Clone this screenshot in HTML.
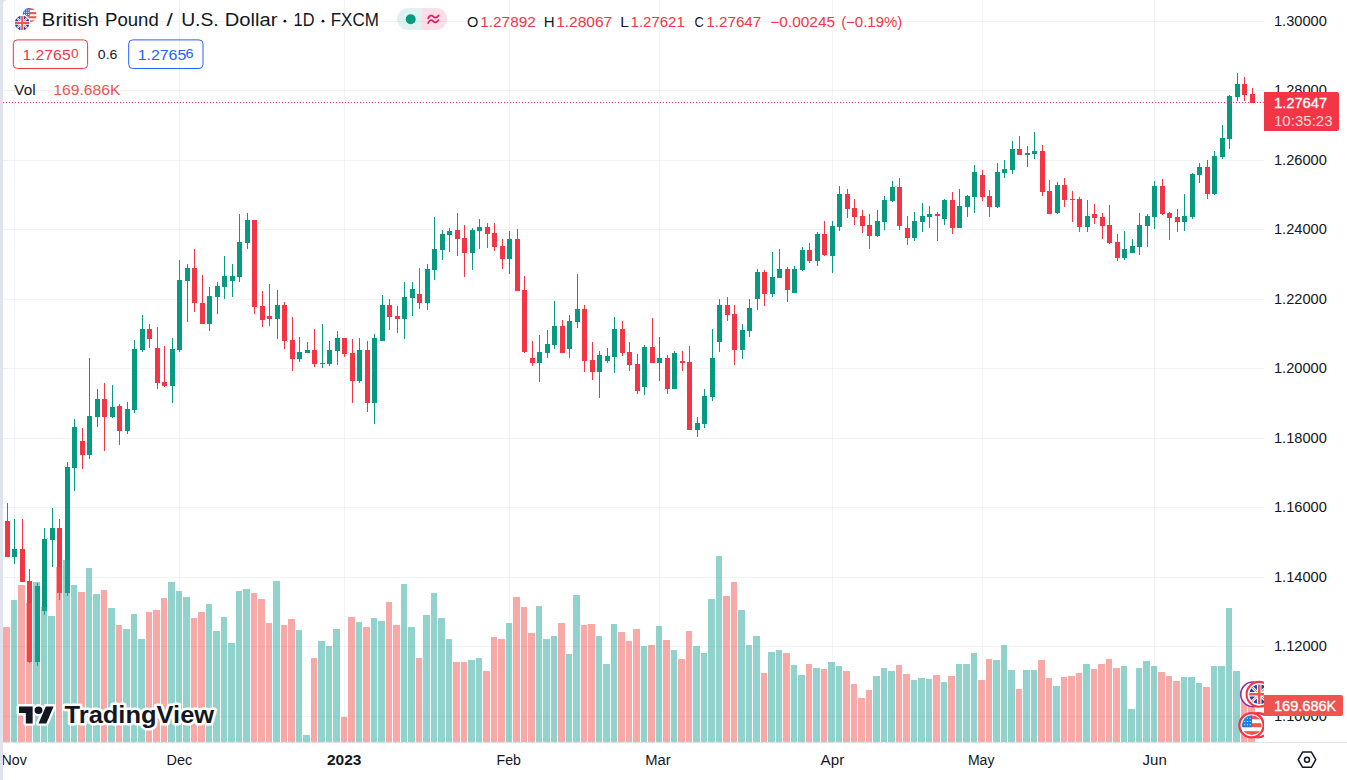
<!DOCTYPE html>
<html><head><meta charset="utf-8"><title>GBPUSD</title>
<style>html,body{margin:0;padding:0;background:#fff;}body{width:1347px;height:780px;overflow:hidden;position:relative;font-family:"Liberation Sans",sans-serif;}svg{position:absolute;left:0;top:0;display:block}text{font-family:"Liberation Sans",sans-serif;}</style>
</head><body>
<svg width="1347" height="780" viewBox="0 0 1347 780">
<rect x="0" y="0" width="1347" height="780" fill="#ffffff"/>
<g shape-rendering="crispEdges" fill="rgba(42,46,57,0.06)">
<rect x="0" y="21" width="1264" height="1"/>
<rect x="0" y="90" width="1264" height="1"/>
<rect x="0" y="160" width="1264" height="1"/>
<rect x="0" y="229" width="1264" height="1"/>
<rect x="0" y="299" width="1264" height="1"/>
<rect x="0" y="368" width="1264" height="1"/>
<rect x="0" y="438" width="1264" height="1"/>
<rect x="0" y="507" width="1264" height="1"/>
<rect x="0" y="577" width="1264" height="1"/>
<rect x="0" y="646" width="1264" height="1"/>
<rect x="0" y="716" width="1264" height="1"/>
<rect x="14" y="0" width="1" height="742"/>
<rect x="179" y="0" width="1" height="742"/>
<rect x="344" y="0" width="1" height="742"/>
<rect x="509" y="0" width="1" height="742"/>
<rect x="659" y="0" width="1" height="742"/>
<rect x="832" y="0" width="1" height="742"/>
<rect x="982" y="0" width="1" height="742"/>
<rect x="1154" y="0" width="1" height="742"/>
</g>
<g shape-rendering="crispEdges">
<rect x="7" y="503" width="1" height="54" fill="#f23645"/>
<rect x="5" y="521" width="5" height="36" fill="#f23645"/>
<rect x="14" y="519" width="1" height="45" fill="#089981"/>
<rect x="12" y="549" width="5" height="8" fill="#089981"/>
<rect x="22" y="519" width="1" height="63" fill="#f23645"/>
<rect x="20" y="549" width="5" height="33" fill="#f23645"/>
<rect x="29" y="569" width="1" height="94" fill="#f23645"/>
<rect x="27" y="581" width="5" height="81" fill="#f23645"/>
<rect x="37" y="583" width="1" height="83" fill="#089981"/>
<rect x="35" y="586" width="5" height="76" fill="#089981"/>
<rect x="44" y="528" width="1" height="87" fill="#089981"/>
<rect x="42" y="539" width="5" height="72" fill="#089981"/>
<rect x="52" y="508" width="1" height="59" fill="#089981"/>
<rect x="50" y="528" width="5" height="12" fill="#089981"/>
<rect x="59" y="519" width="1" height="81" fill="#f23645"/>
<rect x="57" y="528" width="5" height="65" fill="#f23645"/>
<rect x="67" y="462" width="1" height="134" fill="#089981"/>
<rect x="65" y="467" width="5" height="126" fill="#089981"/>
<rect x="74" y="419" width="1" height="72" fill="#089981"/>
<rect x="72" y="427" width="5" height="41" fill="#089981"/>
<rect x="82" y="428" width="1" height="41" fill="#f23645"/>
<rect x="80" y="441" width="5" height="14" fill="#f23645"/>
<rect x="89" y="358" width="1" height="101" fill="#089981"/>
<rect x="87" y="416" width="5" height="39" fill="#089981"/>
<rect x="97" y="389" width="1" height="38" fill="#089981"/>
<rect x="95" y="399" width="5" height="18" fill="#089981"/>
<rect x="104" y="383" width="1" height="68" fill="#f23645"/>
<rect x="102" y="399" width="5" height="18" fill="#f23645"/>
<rect x="112" y="385" width="1" height="33" fill="#089981"/>
<rect x="110" y="407" width="5" height="10" fill="#089981"/>
<rect x="119" y="404" width="1" height="41" fill="#f23645"/>
<rect x="117" y="406" width="5" height="25" fill="#f23645"/>
<rect x="127" y="402" width="1" height="32" fill="#089981"/>
<rect x="125" y="409" width="5" height="22" fill="#089981"/>
<rect x="134" y="340" width="1" height="73" fill="#089981"/>
<rect x="132" y="349" width="5" height="61" fill="#089981"/>
<rect x="142" y="315" width="1" height="37" fill="#089981"/>
<rect x="140" y="329" width="5" height="21" fill="#089981"/>
<rect x="149" y="324" width="1" height="24" fill="#f23645"/>
<rect x="147" y="329" width="5" height="10" fill="#f23645"/>
<rect x="157" y="327" width="1" height="62" fill="#f23645"/>
<rect x="155" y="348" width="5" height="35" fill="#f23645"/>
<rect x="164" y="346" width="1" height="41" fill="#f23645"/>
<rect x="162" y="382" width="5" height="4" fill="#f23645"/>
<rect x="172" y="338" width="1" height="65" fill="#089981"/>
<rect x="170" y="349" width="5" height="37" fill="#089981"/>
<rect x="179" y="260" width="1" height="92" fill="#089981"/>
<rect x="177" y="280" width="5" height="70" fill="#089981"/>
<rect x="187" y="264" width="1" height="58" fill="#089981"/>
<rect x="185" y="268" width="5" height="13" fill="#089981"/>
<rect x="194" y="249" width="1" height="63" fill="#f23645"/>
<rect x="192" y="268" width="5" height="35" fill="#f23645"/>
<rect x="202" y="275" width="1" height="49" fill="#f23645"/>
<rect x="200" y="303" width="5" height="21" fill="#f23645"/>
<rect x="209" y="287" width="1" height="44" fill="#089981"/>
<rect x="207" y="296" width="5" height="28" fill="#089981"/>
<rect x="217" y="282" width="1" height="32" fill="#089981"/>
<rect x="215" y="286" width="5" height="11" fill="#089981"/>
<rect x="224" y="256" width="1" height="43" fill="#089981"/>
<rect x="222" y="276" width="5" height="11" fill="#089981"/>
<rect x="232" y="264" width="1" height="33" fill="#089981"/>
<rect x="230" y="276" width="5" height="5" fill="#089981"/>
<rect x="239" y="214" width="1" height="68" fill="#089981"/>
<rect x="237" y="242" width="5" height="35" fill="#089981"/>
<rect x="247" y="213" width="1" height="36" fill="#089981"/>
<rect x="245" y="220" width="5" height="23" fill="#089981"/>
<rect x="254" y="220" width="1" height="94" fill="#f23645"/>
<rect x="252" y="220" width="5" height="87" fill="#f23645"/>
<rect x="262" y="291" width="1" height="36" fill="#f23645"/>
<rect x="260" y="306" width="5" height="14" fill="#f23645"/>
<rect x="269" y="284" width="1" height="42" fill="#f23645"/>
<rect x="267" y="316" width="5" height="3" fill="#f23645"/>
<rect x="277" y="290" width="1" height="49" fill="#089981"/>
<rect x="275" y="305" width="5" height="14" fill="#089981"/>
<rect x="284" y="302" width="1" height="47" fill="#f23645"/>
<rect x="282" y="305" width="5" height="36" fill="#f23645"/>
<rect x="292" y="317" width="1" height="54" fill="#f23645"/>
<rect x="290" y="340" width="5" height="19" fill="#f23645"/>
<rect x="299" y="337" width="1" height="25" fill="#089981"/>
<rect x="297" y="352" width="5" height="7" fill="#089981"/>
<rect x="307" y="342" width="1" height="11" fill="#089981"/>
<rect x="305" y="350" width="5" height="3" fill="#089981"/>
<rect x="314" y="329" width="1" height="38" fill="#f23645"/>
<rect x="312" y="350" width="5" height="14" fill="#f23645"/>
<rect x="322" y="324" width="1" height="44" fill="#089981"/>
<rect x="320" y="363" width="5" height="1" fill="#089981"/>
<rect x="329" y="341" width="1" height="25" fill="#089981"/>
<rect x="327" y="350" width="5" height="14" fill="#089981"/>
<rect x="337" y="331" width="1" height="34" fill="#089981"/>
<rect x="335" y="338" width="5" height="13" fill="#089981"/>
<rect x="344" y="338" width="1" height="19" fill="#f23645"/>
<rect x="342" y="338" width="5" height="16" fill="#f23645"/>
<rect x="352" y="339" width="1" height="64" fill="#f23645"/>
<rect x="350" y="353" width="5" height="28" fill="#f23645"/>
<rect x="359" y="338" width="1" height="45" fill="#089981"/>
<rect x="357" y="350" width="5" height="31" fill="#089981"/>
<rect x="367" y="341" width="1" height="71" fill="#f23645"/>
<rect x="365" y="350" width="5" height="53" fill="#f23645"/>
<rect x="374" y="334" width="1" height="90" fill="#089981"/>
<rect x="372" y="338" width="5" height="65" fill="#089981"/>
<rect x="382" y="295" width="1" height="46" fill="#089981"/>
<rect x="380" y="305" width="5" height="36" fill="#089981"/>
<rect x="389" y="299" width="1" height="31" fill="#f23645"/>
<rect x="387" y="305" width="5" height="12" fill="#f23645"/>
<rect x="397" y="306" width="1" height="27" fill="#f23645"/>
<rect x="395" y="316" width="5" height="3" fill="#f23645"/>
<rect x="404" y="282" width="1" height="57" fill="#089981"/>
<rect x="402" y="297" width="5" height="22" fill="#089981"/>
<rect x="412" y="282" width="1" height="34" fill="#089981"/>
<rect x="410" y="289" width="5" height="9" fill="#089981"/>
<rect x="419" y="268" width="1" height="41" fill="#f23645"/>
<rect x="417" y="294" width="5" height="9" fill="#f23645"/>
<rect x="427" y="264" width="1" height="46" fill="#089981"/>
<rect x="425" y="269" width="5" height="34" fill="#089981"/>
<rect x="434" y="217" width="1" height="63" fill="#089981"/>
<rect x="432" y="249" width="5" height="21" fill="#089981"/>
<rect x="442" y="230" width="1" height="30" fill="#089981"/>
<rect x="440" y="234" width="5" height="16" fill="#089981"/>
<rect x="449" y="228" width="1" height="24" fill="#089981"/>
<rect x="447" y="231" width="5" height="4" fill="#089981"/>
<rect x="457" y="213" width="1" height="43" fill="#f23645"/>
<rect x="455" y="230" width="5" height="9" fill="#f23645"/>
<rect x="464" y="225" width="1" height="52" fill="#f23645"/>
<rect x="462" y="238" width="5" height="15" fill="#f23645"/>
<rect x="472" y="228" width="1" height="42" fill="#089981"/>
<rect x="470" y="230" width="5" height="23" fill="#089981"/>
<rect x="479" y="219" width="1" height="30" fill="#089981"/>
<rect x="477" y="227" width="5" height="4" fill="#089981"/>
<rect x="487" y="223" width="1" height="25" fill="#f23645"/>
<rect x="485" y="227" width="5" height="7" fill="#f23645"/>
<rect x="494" y="223" width="1" height="28" fill="#f23645"/>
<rect x="492" y="233" width="5" height="14" fill="#f23645"/>
<rect x="502" y="239" width="1" height="30" fill="#f23645"/>
<rect x="500" y="246" width="5" height="13" fill="#f23645"/>
<rect x="509" y="231" width="1" height="43" fill="#089981"/>
<rect x="507" y="239" width="5" height="20" fill="#089981"/>
<rect x="517" y="229" width="1" height="62" fill="#f23645"/>
<rect x="515" y="239" width="5" height="52" fill="#f23645"/>
<rect x="524" y="276" width="1" height="77" fill="#f23645"/>
<rect x="522" y="290" width="5" height="62" fill="#f23645"/>
<rect x="532" y="341" width="1" height="25" fill="#f23645"/>
<rect x="530" y="358" width="5" height="5" fill="#f23645"/>
<rect x="539" y="335" width="1" height="47" fill="#089981"/>
<rect x="537" y="352" width="5" height="11" fill="#089981"/>
<rect x="547" y="330" width="1" height="28" fill="#089981"/>
<rect x="545" y="344" width="5" height="9" fill="#089981"/>
<rect x="554" y="301" width="1" height="48" fill="#089981"/>
<rect x="552" y="326" width="5" height="19" fill="#089981"/>
<rect x="562" y="320" width="1" height="33" fill="#f23645"/>
<rect x="560" y="326" width="5" height="27" fill="#f23645"/>
<rect x="569" y="315" width="1" height="43" fill="#089981"/>
<rect x="567" y="321" width="5" height="28" fill="#089981"/>
<rect x="577" y="274" width="1" height="54" fill="#089981"/>
<rect x="575" y="309" width="5" height="13" fill="#089981"/>
<rect x="584" y="305" width="1" height="67" fill="#f23645"/>
<rect x="582" y="309" width="5" height="52" fill="#f23645"/>
<rect x="592" y="342" width="1" height="38" fill="#f23645"/>
<rect x="590" y="360" width="5" height="12" fill="#f23645"/>
<rect x="599" y="351" width="1" height="47" fill="#089981"/>
<rect x="597" y="355" width="5" height="17" fill="#089981"/>
<rect x="607" y="348" width="1" height="15" fill="#089981"/>
<rect x="605" y="356" width="5" height="5" fill="#089981"/>
<rect x="614" y="317" width="1" height="56" fill="#089981"/>
<rect x="612" y="329" width="5" height="28" fill="#089981"/>
<rect x="622" y="321" width="1" height="35" fill="#f23645"/>
<rect x="620" y="329" width="5" height="24" fill="#f23645"/>
<rect x="629" y="342" width="1" height="29" fill="#f23645"/>
<rect x="627" y="352" width="5" height="13" fill="#f23645"/>
<rect x="637" y="354" width="1" height="40" fill="#f23645"/>
<rect x="635" y="364" width="5" height="27" fill="#f23645"/>
<rect x="644" y="345" width="1" height="50" fill="#089981"/>
<rect x="642" y="347" width="5" height="40" fill="#089981"/>
<rect x="652" y="318" width="1" height="45" fill="#f23645"/>
<rect x="650" y="347" width="5" height="16" fill="#f23645"/>
<rect x="659" y="337" width="1" height="44" fill="#089981"/>
<rect x="657" y="358" width="5" height="5" fill="#089981"/>
<rect x="667" y="355" width="1" height="39" fill="#f23645"/>
<rect x="665" y="358" width="5" height="31" fill="#f23645"/>
<rect x="674" y="351" width="1" height="38" fill="#089981"/>
<rect x="672" y="353" width="5" height="36" fill="#089981"/>
<rect x="682" y="351" width="1" height="20" fill="#f23645"/>
<rect x="680" y="361" width="5" height="2" fill="#f23645"/>
<rect x="689" y="346" width="1" height="84" fill="#f23645"/>
<rect x="687" y="362" width="5" height="68" fill="#f23645"/>
<rect x="697" y="417" width="1" height="20" fill="#089981"/>
<rect x="695" y="423" width="5" height="7" fill="#089981"/>
<rect x="704" y="389" width="1" height="39" fill="#089981"/>
<rect x="702" y="396" width="5" height="28" fill="#089981"/>
<rect x="712" y="329" width="1" height="72" fill="#089981"/>
<rect x="710" y="358" width="5" height="39" fill="#089981"/>
<rect x="719" y="299" width="1" height="53" fill="#089981"/>
<rect x="717" y="305" width="5" height="37" fill="#089981"/>
<rect x="727" y="297" width="1" height="24" fill="#f23645"/>
<rect x="725" y="305" width="5" height="10" fill="#f23645"/>
<rect x="734" y="305" width="1" height="60" fill="#f23645"/>
<rect x="732" y="314" width="5" height="36" fill="#f23645"/>
<rect x="742" y="324" width="1" height="35" fill="#089981"/>
<rect x="740" y="330" width="5" height="20" fill="#089981"/>
<rect x="749" y="299" width="1" height="38" fill="#089981"/>
<rect x="747" y="308" width="5" height="23" fill="#089981"/>
<rect x="757" y="269" width="1" height="41" fill="#089981"/>
<rect x="755" y="272" width="5" height="27" fill="#089981"/>
<rect x="764" y="270" width="1" height="36" fill="#f23645"/>
<rect x="762" y="272" width="5" height="22" fill="#f23645"/>
<rect x="772" y="252" width="1" height="45" fill="#089981"/>
<rect x="770" y="277" width="5" height="17" fill="#089981"/>
<rect x="779" y="249" width="1" height="29" fill="#089981"/>
<rect x="777" y="269" width="5" height="9" fill="#089981"/>
<rect x="787" y="267" width="1" height="35" fill="#f23645"/>
<rect x="785" y="269" width="5" height="21" fill="#f23645"/>
<rect x="794" y="266" width="1" height="27" fill="#089981"/>
<rect x="792" y="269" width="5" height="24" fill="#089981"/>
<rect x="802" y="247" width="1" height="24" fill="#089981"/>
<rect x="800" y="250" width="5" height="20" fill="#089981"/>
<rect x="809" y="243" width="1" height="20" fill="#f23645"/>
<rect x="807" y="250" width="5" height="11" fill="#f23645"/>
<rect x="817" y="232" width="1" height="34" fill="#089981"/>
<rect x="815" y="234" width="5" height="27" fill="#089981"/>
<rect x="824" y="221" width="1" height="35" fill="#f23645"/>
<rect x="822" y="234" width="5" height="21" fill="#f23645"/>
<rect x="832" y="221" width="1" height="52" fill="#089981"/>
<rect x="830" y="226" width="5" height="30" fill="#089981"/>
<rect x="839" y="186" width="1" height="45" fill="#089981"/>
<rect x="837" y="194" width="5" height="33" fill="#089981"/>
<rect x="847" y="189" width="1" height="29" fill="#f23645"/>
<rect x="845" y="194" width="5" height="15" fill="#f23645"/>
<rect x="854" y="199" width="1" height="26" fill="#f23645"/>
<rect x="852" y="208" width="5" height="9" fill="#f23645"/>
<rect x="862" y="210" width="1" height="23" fill="#f23645"/>
<rect x="860" y="216" width="5" height="10" fill="#f23645"/>
<rect x="869" y="214" width="1" height="35" fill="#f23645"/>
<rect x="867" y="225" width="5" height="11" fill="#f23645"/>
<rect x="877" y="210" width="1" height="27" fill="#089981"/>
<rect x="875" y="221" width="5" height="15" fill="#089981"/>
<rect x="884" y="196" width="1" height="34" fill="#089981"/>
<rect x="882" y="200" width="5" height="22" fill="#089981"/>
<rect x="892" y="181" width="1" height="21" fill="#089981"/>
<rect x="890" y="187" width="5" height="14" fill="#089981"/>
<rect x="899" y="178" width="1" height="52" fill="#f23645"/>
<rect x="897" y="187" width="5" height="39" fill="#f23645"/>
<rect x="907" y="216" width="1" height="29" fill="#f23645"/>
<rect x="905" y="228" width="5" height="10" fill="#f23645"/>
<rect x="914" y="212" width="1" height="29" fill="#089981"/>
<rect x="912" y="221" width="5" height="17" fill="#089981"/>
<rect x="922" y="203" width="1" height="29" fill="#089981"/>
<rect x="920" y="216" width="5" height="6" fill="#089981"/>
<rect x="929" y="206" width="1" height="22" fill="#089981"/>
<rect x="927" y="214" width="5" height="3" fill="#089981"/>
<rect x="937" y="212" width="1" height="29" fill="#f23645"/>
<rect x="935" y="214" width="5" height="2" fill="#f23645"/>
<rect x="944" y="199" width="1" height="26" fill="#089981"/>
<rect x="942" y="200" width="5" height="19" fill="#089981"/>
<rect x="952" y="192" width="1" height="42" fill="#f23645"/>
<rect x="950" y="200" width="5" height="28" fill="#f23645"/>
<rect x="959" y="189" width="1" height="39" fill="#089981"/>
<rect x="957" y="206" width="5" height="22" fill="#089981"/>
<rect x="967" y="195" width="1" height="22" fill="#089981"/>
<rect x="965" y="196" width="5" height="11" fill="#089981"/>
<rect x="974" y="165" width="1" height="48" fill="#089981"/>
<rect x="972" y="172" width="5" height="25" fill="#089981"/>
<rect x="982" y="170" width="1" height="31" fill="#f23645"/>
<rect x="980" y="175" width="5" height="22" fill="#f23645"/>
<rect x="989" y="190" width="1" height="27" fill="#f23645"/>
<rect x="987" y="196" width="5" height="11" fill="#f23645"/>
<rect x="997" y="163" width="1" height="45" fill="#089981"/>
<rect x="995" y="172" width="5" height="35" fill="#089981"/>
<rect x="1004" y="160" width="1" height="18" fill="#089981"/>
<rect x="1002" y="169" width="5" height="4" fill="#089981"/>
<rect x="1012" y="141" width="1" height="33" fill="#089981"/>
<rect x="1010" y="149" width="5" height="21" fill="#089981"/>
<rect x="1019" y="136" width="1" height="19" fill="#f23645"/>
<rect x="1017" y="149" width="5" height="6" fill="#f23645"/>
<rect x="1027" y="146" width="1" height="21" fill="#089981"/>
<rect x="1025" y="153" width="5" height="2" fill="#089981"/>
<rect x="1034" y="132" width="1" height="27" fill="#089981"/>
<rect x="1032" y="151" width="5" height="3" fill="#089981"/>
<rect x="1042" y="145" width="1" height="51" fill="#f23645"/>
<rect x="1040" y="151" width="5" height="41" fill="#f23645"/>
<rect x="1049" y="180" width="1" height="34" fill="#f23645"/>
<rect x="1047" y="191" width="5" height="23" fill="#f23645"/>
<rect x="1057" y="182" width="1" height="32" fill="#089981"/>
<rect x="1055" y="185" width="5" height="28" fill="#089981"/>
<rect x="1064" y="178" width="1" height="29" fill="#f23645"/>
<rect x="1062" y="185" width="5" height="15" fill="#f23645"/>
<rect x="1072" y="191" width="1" height="31" fill="#f23645"/>
<rect x="1070" y="199" width="5" height="1" fill="#f23645"/>
<rect x="1079" y="197" width="1" height="35" fill="#f23645"/>
<rect x="1077" y="199" width="5" height="28" fill="#f23645"/>
<rect x="1087" y="200" width="1" height="32" fill="#089981"/>
<rect x="1085" y="216" width="5" height="11" fill="#089981"/>
<rect x="1094" y="204" width="1" height="20" fill="#f23645"/>
<rect x="1092" y="214" width="5" height="4" fill="#f23645"/>
<rect x="1102" y="213" width="1" height="26" fill="#f23645"/>
<rect x="1100" y="217" width="5" height="9" fill="#f23645"/>
<rect x="1109" y="205" width="1" height="39" fill="#f23645"/>
<rect x="1107" y="225" width="5" height="18" fill="#f23645"/>
<rect x="1117" y="234" width="1" height="27" fill="#f23645"/>
<rect x="1115" y="242" width="5" height="16" fill="#f23645"/>
<rect x="1124" y="231" width="1" height="29" fill="#089981"/>
<rect x="1122" y="249" width="5" height="9" fill="#089981"/>
<rect x="1132" y="239" width="1" height="14" fill="#089981"/>
<rect x="1130" y="246" width="5" height="7" fill="#089981"/>
<rect x="1139" y="213" width="1" height="42" fill="#089981"/>
<rect x="1137" y="225" width="5" height="22" fill="#089981"/>
<rect x="1147" y="214" width="1" height="33" fill="#089981"/>
<rect x="1145" y="216" width="5" height="10" fill="#089981"/>
<rect x="1154" y="181" width="1" height="48" fill="#089981"/>
<rect x="1152" y="186" width="5" height="31" fill="#089981"/>
<rect x="1162" y="179" width="1" height="36" fill="#f23645"/>
<rect x="1160" y="186" width="5" height="28" fill="#f23645"/>
<rect x="1169" y="212" width="1" height="28" fill="#f23645"/>
<rect x="1167" y="213" width="5" height="5" fill="#f23645"/>
<rect x="1177" y="209" width="1" height="23" fill="#f23645"/>
<rect x="1175" y="217" width="5" height="5" fill="#f23645"/>
<rect x="1184" y="194" width="1" height="37" fill="#089981"/>
<rect x="1182" y="216" width="5" height="6" fill="#089981"/>
<rect x="1192" y="173" width="1" height="46" fill="#089981"/>
<rect x="1190" y="174" width="5" height="43" fill="#089981"/>
<rect x="1199" y="163" width="1" height="20" fill="#089981"/>
<rect x="1197" y="167" width="5" height="8" fill="#089981"/>
<rect x="1207" y="160" width="1" height="39" fill="#f23645"/>
<rect x="1205" y="167" width="5" height="27" fill="#f23645"/>
<rect x="1214" y="151" width="1" height="44" fill="#089981"/>
<rect x="1212" y="156" width="5" height="38" fill="#089981"/>
<rect x="1222" y="125" width="1" height="34" fill="#089981"/>
<rect x="1220" y="138" width="5" height="19" fill="#089981"/>
<rect x="1229" y="95" width="1" height="54" fill="#089981"/>
<rect x="1227" y="96" width="5" height="43" fill="#089981"/>
<rect x="1237" y="73" width="1" height="28" fill="#089981"/>
<rect x="1235" y="84" width="5" height="13" fill="#089981"/>
<rect x="1244" y="77" width="1" height="24" fill="#f23645"/>
<rect x="1242" y="84" width="5" height="11" fill="#f23645"/>
<rect x="1252" y="88" width="1" height="15" fill="#f23645"/>
<rect x="1250" y="94" width="5" height="9" fill="#f23645"/>
</g>
<g shape-rendering="crispEdges">
<rect x="3" y="627" width="7" height="115" fill="rgba(239,83,80,0.5)"/>
<rect x="11" y="600" width="6" height="142" fill="rgba(38,166,154,0.5)"/>
<rect x="18" y="585" width="7" height="157" fill="rgba(239,83,80,0.5)"/>
<rect x="26" y="603" width="6" height="139" fill="rgba(239,83,80,0.5)"/>
<rect x="33" y="582" width="7" height="160" fill="rgba(38,166,154,0.5)"/>
<rect x="41" y="607" width="6" height="135" fill="rgba(38,166,154,0.5)"/>
<rect x="48" y="616" width="7" height="126" fill="rgba(38,166,154,0.5)"/>
<rect x="56" y="567" width="6" height="175" fill="rgba(239,83,80,0.5)"/>
<rect x="63" y="560" width="7" height="182" fill="rgba(38,166,154,0.5)"/>
<rect x="71" y="585" width="6" height="157" fill="rgba(38,166,154,0.5)"/>
<rect x="78" y="592" width="7" height="150" fill="rgba(239,83,80,0.5)"/>
<rect x="86" y="568" width="6" height="174" fill="rgba(38,166,154,0.5)"/>
<rect x="93" y="594" width="7" height="148" fill="rgba(38,166,154,0.5)"/>
<rect x="101" y="590" width="6" height="152" fill="rgba(239,83,80,0.5)"/>
<rect x="108" y="608" width="7" height="134" fill="rgba(38,166,154,0.5)"/>
<rect x="116" y="625" width="6" height="117" fill="rgba(239,83,80,0.5)"/>
<rect x="123" y="629" width="7" height="113" fill="rgba(38,166,154,0.5)"/>
<rect x="131" y="614" width="6" height="128" fill="rgba(38,166,154,0.5)"/>
<rect x="138" y="639" width="7" height="103" fill="rgba(38,166,154,0.5)"/>
<rect x="146" y="612" width="6" height="130" fill="rgba(239,83,80,0.5)"/>
<rect x="153" y="610" width="7" height="132" fill="rgba(239,83,80,0.5)"/>
<rect x="161" y="598" width="6" height="144" fill="rgba(239,83,80,0.5)"/>
<rect x="168" y="582" width="7" height="160" fill="rgba(38,166,154,0.5)"/>
<rect x="176" y="591" width="6" height="151" fill="rgba(38,166,154,0.5)"/>
<rect x="183" y="597" width="7" height="145" fill="rgba(38,166,154,0.5)"/>
<rect x="191" y="618" width="6" height="124" fill="rgba(239,83,80,0.5)"/>
<rect x="198" y="612" width="7" height="130" fill="rgba(239,83,80,0.5)"/>
<rect x="206" y="604" width="6" height="138" fill="rgba(38,166,154,0.5)"/>
<rect x="213" y="631" width="7" height="111" fill="rgba(38,166,154,0.5)"/>
<rect x="221" y="617" width="6" height="125" fill="rgba(38,166,154,0.5)"/>
<rect x="228" y="643" width="7" height="99" fill="rgba(38,166,154,0.5)"/>
<rect x="236" y="591" width="6" height="151" fill="rgba(38,166,154,0.5)"/>
<rect x="243" y="589" width="7" height="153" fill="rgba(38,166,154,0.5)"/>
<rect x="251" y="593" width="6" height="149" fill="rgba(239,83,80,0.5)"/>
<rect x="258" y="599" width="7" height="143" fill="rgba(239,83,80,0.5)"/>
<rect x="266" y="623" width="6" height="119" fill="rgba(239,83,80,0.5)"/>
<rect x="273" y="581" width="7" height="161" fill="rgba(38,166,154,0.5)"/>
<rect x="281" y="625" width="6" height="117" fill="rgba(239,83,80,0.5)"/>
<rect x="288" y="619" width="7" height="123" fill="rgba(239,83,80,0.5)"/>
<rect x="296" y="630" width="6" height="112" fill="rgba(38,166,154,0.5)"/>
<rect x="303" y="735" width="7" height="7" fill="rgba(38,166,154,0.5)"/>
<rect x="311" y="658" width="6" height="84" fill="rgba(239,83,80,0.5)"/>
<rect x="318" y="641" width="7" height="101" fill="rgba(38,166,154,0.5)"/>
<rect x="326" y="646" width="6" height="96" fill="rgba(38,166,154,0.5)"/>
<rect x="333" y="629" width="7" height="113" fill="rgba(38,166,154,0.5)"/>
<rect x="341" y="717" width="6" height="25" fill="rgba(239,83,80,0.5)"/>
<rect x="348" y="617" width="7" height="125" fill="rgba(239,83,80,0.5)"/>
<rect x="356" y="622" width="6" height="120" fill="rgba(38,166,154,0.5)"/>
<rect x="363" y="627" width="7" height="115" fill="rgba(239,83,80,0.5)"/>
<rect x="371" y="618" width="6" height="124" fill="rgba(38,166,154,0.5)"/>
<rect x="378" y="621" width="7" height="121" fill="rgba(38,166,154,0.5)"/>
<rect x="386" y="602" width="6" height="140" fill="rgba(239,83,80,0.5)"/>
<rect x="393" y="625" width="7" height="117" fill="rgba(239,83,80,0.5)"/>
<rect x="401" y="584" width="6" height="158" fill="rgba(38,166,154,0.5)"/>
<rect x="408" y="627" width="7" height="115" fill="rgba(38,166,154,0.5)"/>
<rect x="416" y="658" width="6" height="84" fill="rgba(239,83,80,0.5)"/>
<rect x="423" y="615" width="7" height="127" fill="rgba(38,166,154,0.5)"/>
<rect x="431" y="593" width="6" height="149" fill="rgba(38,166,154,0.5)"/>
<rect x="438" y="618" width="7" height="124" fill="rgba(38,166,154,0.5)"/>
<rect x="446" y="639" width="6" height="103" fill="rgba(38,166,154,0.5)"/>
<rect x="453" y="662" width="7" height="80" fill="rgba(239,83,80,0.5)"/>
<rect x="461" y="662" width="6" height="80" fill="rgba(239,83,80,0.5)"/>
<rect x="468" y="660" width="7" height="82" fill="rgba(38,166,154,0.5)"/>
<rect x="476" y="658" width="6" height="84" fill="rgba(38,166,154,0.5)"/>
<rect x="483" y="671" width="7" height="71" fill="rgba(239,83,80,0.5)"/>
<rect x="491" y="637" width="6" height="105" fill="rgba(239,83,80,0.5)"/>
<rect x="498" y="639" width="7" height="103" fill="rgba(239,83,80,0.5)"/>
<rect x="506" y="623" width="6" height="119" fill="rgba(38,166,154,0.5)"/>
<rect x="513" y="597" width="7" height="145" fill="rgba(239,83,80,0.5)"/>
<rect x="521" y="607" width="6" height="135" fill="rgba(239,83,80,0.5)"/>
<rect x="528" y="633" width="7" height="109" fill="rgba(239,83,80,0.5)"/>
<rect x="536" y="606" width="6" height="136" fill="rgba(38,166,154,0.5)"/>
<rect x="543" y="639" width="7" height="103" fill="rgba(38,166,154,0.5)"/>
<rect x="551" y="636" width="6" height="106" fill="rgba(38,166,154,0.5)"/>
<rect x="558" y="623" width="7" height="119" fill="rgba(239,83,80,0.5)"/>
<rect x="566" y="654" width="6" height="88" fill="rgba(38,166,154,0.5)"/>
<rect x="573" y="595" width="7" height="147" fill="rgba(38,166,154,0.5)"/>
<rect x="581" y="625" width="6" height="117" fill="rgba(239,83,80,0.5)"/>
<rect x="588" y="624" width="7" height="118" fill="rgba(239,83,80,0.5)"/>
<rect x="596" y="636" width="6" height="106" fill="rgba(38,166,154,0.5)"/>
<rect x="603" y="664" width="7" height="78" fill="rgba(38,166,154,0.5)"/>
<rect x="611" y="624" width="6" height="118" fill="rgba(38,166,154,0.5)"/>
<rect x="618" y="632" width="7" height="110" fill="rgba(239,83,80,0.5)"/>
<rect x="626" y="641" width="6" height="101" fill="rgba(239,83,80,0.5)"/>
<rect x="633" y="629" width="7" height="113" fill="rgba(239,83,80,0.5)"/>
<rect x="641" y="646" width="6" height="96" fill="rgba(38,166,154,0.5)"/>
<rect x="648" y="645" width="7" height="97" fill="rgba(239,83,80,0.5)"/>
<rect x="656" y="626" width="6" height="116" fill="rgba(38,166,154,0.5)"/>
<rect x="663" y="640" width="7" height="102" fill="rgba(239,83,80,0.5)"/>
<rect x="671" y="650" width="6" height="92" fill="rgba(38,166,154,0.5)"/>
<rect x="678" y="659" width="7" height="83" fill="rgba(239,83,80,0.5)"/>
<rect x="686" y="631" width="6" height="111" fill="rgba(239,83,80,0.5)"/>
<rect x="693" y="646" width="7" height="96" fill="rgba(38,166,154,0.5)"/>
<rect x="701" y="653" width="6" height="89" fill="rgba(38,166,154,0.5)"/>
<rect x="708" y="599" width="7" height="143" fill="rgba(38,166,154,0.5)"/>
<rect x="716" y="556" width="6" height="186" fill="rgba(38,166,154,0.5)"/>
<rect x="723" y="596" width="7" height="146" fill="rgba(239,83,80,0.5)"/>
<rect x="731" y="582" width="6" height="160" fill="rgba(239,83,80,0.5)"/>
<rect x="738" y="610" width="7" height="132" fill="rgba(38,166,154,0.5)"/>
<rect x="746" y="645" width="6" height="97" fill="rgba(38,166,154,0.5)"/>
<rect x="753" y="636" width="7" height="106" fill="rgba(38,166,154,0.5)"/>
<rect x="761" y="673" width="6" height="69" fill="rgba(239,83,80,0.5)"/>
<rect x="768" y="652" width="7" height="90" fill="rgba(38,166,154,0.5)"/>
<rect x="776" y="650" width="6" height="92" fill="rgba(38,166,154,0.5)"/>
<rect x="783" y="653" width="7" height="89" fill="rgba(239,83,80,0.5)"/>
<rect x="791" y="665" width="6" height="77" fill="rgba(38,166,154,0.5)"/>
<rect x="798" y="675" width="7" height="67" fill="rgba(38,166,154,0.5)"/>
<rect x="806" y="664" width="6" height="78" fill="rgba(239,83,80,0.5)"/>
<rect x="813" y="668" width="7" height="74" fill="rgba(38,166,154,0.5)"/>
<rect x="821" y="669" width="6" height="73" fill="rgba(239,83,80,0.5)"/>
<rect x="828" y="662" width="7" height="80" fill="rgba(38,166,154,0.5)"/>
<rect x="836" y="666" width="6" height="76" fill="rgba(38,166,154,0.5)"/>
<rect x="843" y="671" width="7" height="71" fill="rgba(239,83,80,0.5)"/>
<rect x="851" y="684" width="6" height="58" fill="rgba(239,83,80,0.5)"/>
<rect x="858" y="698" width="7" height="44" fill="rgba(239,83,80,0.5)"/>
<rect x="866" y="690" width="6" height="52" fill="rgba(239,83,80,0.5)"/>
<rect x="873" y="676" width="7" height="66" fill="rgba(38,166,154,0.5)"/>
<rect x="881" y="668" width="6" height="74" fill="rgba(38,166,154,0.5)"/>
<rect x="888" y="671" width="7" height="71" fill="rgba(38,166,154,0.5)"/>
<rect x="896" y="665" width="6" height="77" fill="rgba(239,83,80,0.5)"/>
<rect x="903" y="674" width="7" height="68" fill="rgba(239,83,80,0.5)"/>
<rect x="911" y="680" width="6" height="62" fill="rgba(38,166,154,0.5)"/>
<rect x="918" y="678" width="7" height="64" fill="rgba(38,166,154,0.5)"/>
<rect x="926" y="679" width="6" height="63" fill="rgba(38,166,154,0.5)"/>
<rect x="933" y="675" width="7" height="67" fill="rgba(239,83,80,0.5)"/>
<rect x="941" y="682" width="6" height="60" fill="rgba(38,166,154,0.5)"/>
<rect x="948" y="676" width="7" height="66" fill="rgba(239,83,80,0.5)"/>
<rect x="956" y="664" width="6" height="78" fill="rgba(38,166,154,0.5)"/>
<rect x="963" y="664" width="7" height="78" fill="rgba(38,166,154,0.5)"/>
<rect x="971" y="653" width="6" height="89" fill="rgba(38,166,154,0.5)"/>
<rect x="978" y="680" width="7" height="62" fill="rgba(239,83,80,0.5)"/>
<rect x="986" y="659" width="6" height="83" fill="rgba(239,83,80,0.5)"/>
<rect x="993" y="660" width="7" height="82" fill="rgba(38,166,154,0.5)"/>
<rect x="1001" y="645" width="6" height="97" fill="rgba(38,166,154,0.5)"/>
<rect x="1008" y="670" width="7" height="72" fill="rgba(38,166,154,0.5)"/>
<rect x="1016" y="689" width="6" height="53" fill="rgba(239,83,80,0.5)"/>
<rect x="1023" y="670" width="7" height="72" fill="rgba(38,166,154,0.5)"/>
<rect x="1031" y="670" width="6" height="72" fill="rgba(38,166,154,0.5)"/>
<rect x="1038" y="660" width="7" height="82" fill="rgba(239,83,80,0.5)"/>
<rect x="1046" y="678" width="6" height="64" fill="rgba(239,83,80,0.5)"/>
<rect x="1053" y="686" width="7" height="56" fill="rgba(38,166,154,0.5)"/>
<rect x="1061" y="677" width="6" height="65" fill="rgba(239,83,80,0.5)"/>
<rect x="1068" y="676" width="7" height="66" fill="rgba(239,83,80,0.5)"/>
<rect x="1076" y="673" width="6" height="69" fill="rgba(239,83,80,0.5)"/>
<rect x="1083" y="664" width="7" height="78" fill="rgba(38,166,154,0.5)"/>
<rect x="1091" y="669" width="6" height="73" fill="rgba(239,83,80,0.5)"/>
<rect x="1098" y="664" width="7" height="78" fill="rgba(239,83,80,0.5)"/>
<rect x="1106" y="659" width="6" height="83" fill="rgba(239,83,80,0.5)"/>
<rect x="1113" y="668" width="7" height="74" fill="rgba(239,83,80,0.5)"/>
<rect x="1121" y="666" width="6" height="76" fill="rgba(38,166,154,0.5)"/>
<rect x="1128" y="709" width="7" height="33" fill="rgba(38,166,154,0.5)"/>
<rect x="1136" y="668" width="6" height="74" fill="rgba(38,166,154,0.5)"/>
<rect x="1143" y="661" width="7" height="81" fill="rgba(38,166,154,0.5)"/>
<rect x="1151" y="666" width="6" height="76" fill="rgba(38,166,154,0.5)"/>
<rect x="1158" y="672" width="7" height="70" fill="rgba(239,83,80,0.5)"/>
<rect x="1166" y="676" width="6" height="66" fill="rgba(239,83,80,0.5)"/>
<rect x="1173" y="681" width="7" height="61" fill="rgba(239,83,80,0.5)"/>
<rect x="1181" y="677" width="6" height="65" fill="rgba(38,166,154,0.5)"/>
<rect x="1188" y="677" width="7" height="65" fill="rgba(38,166,154,0.5)"/>
<rect x="1196" y="683" width="6" height="59" fill="rgba(38,166,154,0.5)"/>
<rect x="1203" y="687" width="7" height="55" fill="rgba(239,83,80,0.5)"/>
<rect x="1211" y="666" width="6" height="76" fill="rgba(38,166,154,0.5)"/>
<rect x="1218" y="666" width="7" height="76" fill="rgba(38,166,154,0.5)"/>
<rect x="1226" y="608" width="6" height="134" fill="rgba(38,166,154,0.5)"/>
<rect x="1233" y="671" width="7" height="71" fill="rgba(38,166,154,0.5)"/>
<rect x="1241" y="700" width="6" height="42" fill="rgba(239,83,80,0.5)"/>
<rect x="1248" y="705" width="7" height="37" fill="rgba(239,83,80,0.5)"/>
</g>
<line x1="0" y1="102.5" x2="1264" y2="102.5" stroke="#f23645" stroke-width="1" stroke-dasharray="1 2" shape-rendering="crispEdges"/>
<clipPath id="paneclip"><rect x="0" y="0" width="1264" height="742"/></clipPath>
<g clip-path="url(#paneclip)">
<circle cx="1253" cy="694.3" r="12.3" fill="#fff" stroke="#9c27b0" stroke-width="1.6"/>
<circle cx="1259" cy="694.3" r="12.4" fill="#fff" stroke="#f23645" stroke-width="2.1"/>
<clipPath id="ukm"><circle cx="1259.2" cy="694.3" r="9.9"/></clipPath>
<g clip-path="url(#ukm)">
<rect x="1249.3" y="684.4" width="19.8" height="19.8" fill="#1740a8"/>
<path d="M1248.31 683.41L1270.0900000000001 705.1899999999999M1270.0900000000001 683.41L1248.31 705.1899999999999" stroke="#fff" stroke-width="2.77"/>
<path d="M1248.31 683.41L1270.0900000000001 705.1899999999999M1270.0900000000001 683.41L1248.31 705.1899999999999" stroke="#f0544f" stroke-width="0.99"/>
<path d="M1259.2 684.4V704.1999999999999M1249.3 694.3H1269.1000000000001" stroke="#fff" stroke-width="4.55"/>
<path d="M1259.2 684.4V704.1999999999999M1249.3 694.3H1269.1000000000001" stroke="#f0544f" stroke-width="2.48"/>
</g>
<circle cx="1258" cy="725.2" r="12.1" fill="#fff" stroke="#f23645" stroke-width="2.3"/>
<circle cx="1251.5" cy="725.2" r="12.1" fill="#fff" stroke="#f23645" stroke-width="2.3"/>
<clipPath id="usm"><circle cx="1251.8" cy="725.2" r="9.9"/></clipPath>
<g clip-path="url(#usm)">
<rect x="1241.8999999999999" y="715.3000000000001" width="19.8" height="19.8" fill="#fff"/>
<rect x="1241.8999999999999" y="715.30" width="19.8" height="3.96" fill="#f0544f"/>
<rect x="1241.8999999999999" y="723.22" width="19.8" height="3.96" fill="#f0544f"/>
<rect x="1241.8999999999999" y="731.14" width="19.8" height="3.96" fill="#f0544f"/>
<rect x="1241.8999999999999" y="715.3000000000001" width="10.10" height="11.88" fill="#1a80e5"/>
<rect x="1244.17" y="717.77" width="1" height="1" fill="#fff" opacity="0.9"/>
<rect x="1246.94" y="717.77" width="1" height="1" fill="#fff" opacity="0.9"/>
<rect x="1249.72" y="717.77" width="1" height="1" fill="#fff" opacity="0.9"/>
<rect x="1244.17" y="720.98" width="1" height="1" fill="#fff" opacity="0.9"/>
<rect x="1246.94" y="720.98" width="1" height="1" fill="#fff" opacity="0.9"/>
<rect x="1249.72" y="720.98" width="1" height="1" fill="#fff" opacity="0.9"/>
<rect x="1244.17" y="724.19" width="1" height="1" fill="#fff" opacity="0.9"/>
<rect x="1246.94" y="724.19" width="1" height="1" fill="#fff" opacity="0.9"/>
<rect x="1249.72" y="724.19" width="1" height="1" fill="#fff" opacity="0.9"/>
</g>
</g>
<g shape-rendering="crispEdges">
<rect x="0" y="742" width="1264" height="1" fill="#e0e3eb"/>
<rect x="1265" y="742" width="82" height="1" fill="#e0e3eb"/>
</g>
<text x="1273.97" y="25.8" font-size="14.9" fill="#131722" textLength="52.85" lengthAdjust="spacingAndGlyphs">1.30000</text>
<text x="1273.97" y="94.8" font-size="14.9" fill="#131722" textLength="52.85" lengthAdjust="spacingAndGlyphs">1.28000</text>
<text x="1273.97" y="164.8" font-size="14.9" fill="#131722" textLength="52.85" lengthAdjust="spacingAndGlyphs">1.26000</text>
<text x="1273.97" y="233.8" font-size="14.9" fill="#131722" textLength="52.85" lengthAdjust="spacingAndGlyphs">1.24000</text>
<text x="1273.97" y="303.8" font-size="14.9" fill="#131722" textLength="52.85" lengthAdjust="spacingAndGlyphs">1.22000</text>
<text x="1273.97" y="372.8" font-size="14.9" fill="#131722" textLength="52.85" lengthAdjust="spacingAndGlyphs">1.20000</text>
<text x="1273.97" y="442.8" font-size="14.9" fill="#131722" textLength="52.85" lengthAdjust="spacingAndGlyphs">1.18000</text>
<text x="1273.97" y="511.8" font-size="14.9" fill="#131722" textLength="52.85" lengthAdjust="spacingAndGlyphs">1.16000</text>
<text x="1273.97" y="581.8" font-size="14.9" fill="#131722" textLength="52.85" lengthAdjust="spacingAndGlyphs">1.14000</text>
<text x="1273.97" y="650.8" font-size="14.9" fill="#131722" textLength="52.85" lengthAdjust="spacingAndGlyphs">1.12000</text>
<text x="1273.97" y="720.8" font-size="14.9" fill="#131722" textLength="52.85" lengthAdjust="spacingAndGlyphs">1.10000</text>
<path d="M1264 92H1337Q1339 92 1339 94V129Q1339 131 1337 131H1264Z" fill="#f23645"/>
<text x="1273.96" y="107.7" font-size="14.5" fill="#fff" stroke="#fff" stroke-width="0.3" textLength="53.12" lengthAdjust="spacingAndGlyphs">1.27647</text>
<text x="1274.01" y="125.9" font-size="14.5" fill="#fff" fill-opacity="0.82" textLength="58.56" lengthAdjust="spacingAndGlyphs">10:35:23</text>
<path d="M1264 695H1341Q1343 695 1343 697V714Q1343 716 1341 716H1264Z" fill="#ef5350"/>
<text x="1273.97" y="710.8" font-size="14.5" fill="#fff" stroke="#fff" stroke-width="0.3" textLength="62.36" lengthAdjust="spacingAndGlyphs">169.686K</text>
<text x="1.64" y="764.7" font-size="14" fill="#131722" textLength="25.25" lengthAdjust="spacingAndGlyphs">Nov</text>
<text x="166.60" y="764.7" font-size="14" fill="#131722" textLength="25.66" lengthAdjust="spacingAndGlyphs">Dec</text>
<text x="327.00" y="764.7" font-size="14" font-weight="bold" fill="#131722" textLength="34.49" lengthAdjust="spacingAndGlyphs">2023</text>
<text x="496.51" y="764.7" font-size="14" fill="#131722" textLength="24.36" lengthAdjust="spacingAndGlyphs">Feb</text>
<text x="645.29" y="764.7" font-size="14" fill="#131722" textLength="25.44" lengthAdjust="spacingAndGlyphs">Mar</text>
<text x="820.52" y="764.7" font-size="14" fill="#131722" textLength="23.76" lengthAdjust="spacingAndGlyphs">Apr</text>
<text x="967.98" y="764.7" font-size="14" fill="#131722" textLength="26.42" lengthAdjust="spacingAndGlyphs">May</text>
<text x="1142.55" y="764.7" font-size="14" fill="#131722" textLength="24.22" lengthAdjust="spacingAndGlyphs">Jun</text>
<g fill="none" stroke="#131722" stroke-width="1.5" stroke-linejoin="round">
<path d="M1298.2 759.7L1302.6 752.1H1311.4L1315.8 759.7L1311.4 767.3H1302.6Z"/>
<circle cx="1307" cy="759.7" r="2.5"/>
</g>
<path d="M0 0H8Q3 0 3 5V780H0Z" fill="#e0e3eb"/>
<clipPath id="usl"><circle cx="29.6" cy="15.2" r="7.2"/></clipPath>
<g clip-path="url(#usl)">
<rect x="22.400000000000002" y="7.999999999999999" width="14.4" height="14.4" fill="#fff"/>
<rect x="22.400000000000002" y="8.00" width="14.4" height="2.06" fill="#f0544f"/>
<rect x="22.400000000000002" y="12.11" width="14.4" height="2.06" fill="#f0544f"/>
<rect x="22.400000000000002" y="16.23" width="14.4" height="2.06" fill="#f0544f"/>
<rect x="22.400000000000002" y="20.34" width="14.4" height="2.06" fill="#f0544f"/>
<rect x="22.400000000000002" y="7.999999999999999" width="7.34" height="8.23" fill="#1a80e5"/>
<rect x="23.92" y="9.56" width="1" height="1" fill="#fff" opacity="0.9"/>
<rect x="25.93" y="9.56" width="1" height="1" fill="#fff" opacity="0.9"/>
<rect x="27.95" y="9.56" width="1" height="1" fill="#fff" opacity="0.9"/>
<rect x="23.92" y="11.78" width="1" height="1" fill="#fff" opacity="0.9"/>
<rect x="25.93" y="11.78" width="1" height="1" fill="#fff" opacity="0.9"/>
<rect x="27.95" y="11.78" width="1" height="1" fill="#fff" opacity="0.9"/>
<rect x="23.92" y="14.00" width="1" height="1" fill="#fff" opacity="0.9"/>
<rect x="25.93" y="14.00" width="1" height="1" fill="#fff" opacity="0.9"/>
<rect x="27.95" y="14.00" width="1" height="1" fill="#fff" opacity="0.9"/>
</g>
<circle cx="22.1" cy="23" r="8.4" fill="#fff"/>
<clipPath id="ukl"><circle cx="22.1" cy="23" r="7.3"/></clipPath>
<g clip-path="url(#ukl)">
<rect x="14.8" y="15.7" width="14.6" height="14.6" fill="#1740a8"/>
<path d="M14.07 14.969999999999999L30.130000000000003 31.03M30.130000000000003 14.969999999999999L14.07 31.03" stroke="#fff" stroke-width="2.04"/>
<path d="M14.07 14.969999999999999L30.130000000000003 31.03M30.130000000000003 14.969999999999999L14.07 31.03" stroke="#f0544f" stroke-width="0.73"/>
<path d="M22.1 15.7V30.3M14.8 23H29.400000000000002" stroke="#fff" stroke-width="3.36"/>
<path d="M22.1 15.7V30.3M14.8 23H29.400000000000002" stroke="#f0544f" stroke-width="1.82"/>
</g>
<text x="41.61" y="26.4" font-size="18.3" fill="#131722" textLength="57.39" lengthAdjust="spacingAndGlyphs">British</text>
<text x="105.06" y="26.4" font-size="18.3" fill="#131722" textLength="53.71" lengthAdjust="spacingAndGlyphs">Pound</text>
<text x="166.40" y="26.4" font-size="18.3" fill="#131722" textLength="6.31" lengthAdjust="spacingAndGlyphs">/</text>
<text x="181.21" y="26.4" font-size="18.3" fill="#131722" textLength="37.49" lengthAdjust="spacingAndGlyphs">U.S.</text>
<text x="224.72" y="26.4" font-size="18.3" fill="#131722" textLength="52.63" lengthAdjust="spacingAndGlyphs">Dollar</text>
<text x="293.59" y="26.4" font-size="18.3" fill="#131722" textLength="20.87" lengthAdjust="spacingAndGlyphs">1D</text>
<text x="330.69" y="26.4" font-size="18.3" fill="#131722" textLength="48.17" lengthAdjust="spacingAndGlyphs">FXCM</text>
<text x="467.09" y="26.9" font-size="14.4" fill="#131722" textLength="11.31" lengthAdjust="spacingAndGlyphs">O</text>
<text x="480.18" y="26.9" font-size="14.4" fill="#f23645" textLength="55.65" lengthAdjust="spacingAndGlyphs">1.27892</text>
<text x="543.86" y="26.9" font-size="14.4" fill="#131722" textLength="10.87" lengthAdjust="spacingAndGlyphs">H</text>
<text x="556.15" y="26.9" font-size="14.4" fill="#f23645" textLength="56.09" lengthAdjust="spacingAndGlyphs">1.28067</text>
<text x="620.30" y="26.9" font-size="14.4" fill="#131722" textLength="8.51" lengthAdjust="spacingAndGlyphs">L</text>
<text x="630.55" y="26.9" font-size="14.4" fill="#f23645" textLength="54.22" lengthAdjust="spacingAndGlyphs">1.27621</text>
<text x="694.49" y="26.9" font-size="14.4" fill="#131722" textLength="9.39" lengthAdjust="spacingAndGlyphs">C</text>
<text x="706.29" y="26.9" font-size="14.4" fill="#f23645" textLength="54.99" lengthAdjust="spacingAndGlyphs">1.27647</text>
<text x="770.26" y="26.9" font-size="14.4" fill="#f23645" textLength="64.88" lengthAdjust="spacingAndGlyphs">−0.00245</text>
<text x="841.15" y="26.9" font-size="14.4" fill="#f23645" textLength="61.09" lengthAdjust="spacingAndGlyphs">(−0.19%)</text>
<text x="22.47" y="59.6" font-size="15" fill="#f23645" textLength="48.18" lengthAdjust="spacingAndGlyphs">1.2765</text>
<text x="71.01" y="58.3" font-size="13.5" fill="#f23645" textLength="7.65" lengthAdjust="spacingAndGlyphs">0</text>
<text x="97.89" y="58.9" font-size="13" fill="#131722" textLength="19.52" lengthAdjust="spacingAndGlyphs">0.6</text>
<text x="137.65" y="59.6" font-size="15" fill="#2962ff" textLength="48.65" lengthAdjust="spacingAndGlyphs">1.2765</text>
<text x="185.53" y="58.3" font-size="13.5" fill="#2962ff" textLength="8.07" lengthAdjust="spacingAndGlyphs">6</text>
<text x="14.35" y="94.7" font-size="14.8" fill="#131722" textLength="21.28" lengthAdjust="spacingAndGlyphs">Vol</text>
<text x="53.32" y="94.7" font-size="14.8" fill="#ef5350" textLength="67.10" lengthAdjust="spacingAndGlyphs">169.686K</text>
<circle cx="284.9" cy="21.2" r="1.4" fill="#131722"/><circle cx="323" cy="21.2" r="1.4" fill="#131722"/>
<path d="M408 8H422V30H408A11 11 0 0 1 408 8Z" fill="#089981" fill-opacity="0.13"/>
<path d="M422 8H436A11 11 0 0 1 436 30H422Z" fill="#e91e63" fill-opacity="0.15"/>
<circle cx="410.7" cy="19.2" r="5" fill="#089981"/>
<path d="M428.1 18.3C429.6 14.9 431.8 15 433.4 16.6S436.6 18.2 438.6 15.4M428.1 23C429.6 19.6 431.8 19.7 433.4 21.3S436.6 22.9 438.6 20.1" fill="none" stroke="#e0185c" stroke-width="1.7" stroke-linecap="round"/>
<rect x="13.3" y="39.9" width="74.3" height="28.6" rx="4" fill="none" stroke="#f23645" stroke-width="1"/>
<rect x="128.7" y="39.9" width="74.3" height="28.6" rx="4" fill="none" stroke="#2962ff" stroke-width="1"/>
<g stroke="#fff" stroke-width="5" stroke-linejoin="round" fill="#fff"><g transform="translate(19,702.7) scale(0.975,0.94)"><path d="M14 22H7V11H0V4h14v18zM28 22h-8l7.5-18h8L28 22z"/><circle cx="20" cy="8" r="4"/></g></g>
<text x="64.57" y="723.4" font-size="23.5" font-weight="bold" fill="#fff" stroke="#fff" stroke-width="5" stroke-linejoin="round" textLength="149.59" lengthAdjust="spacingAndGlyphs">TradingView</text>
<g fill="#131722"><g transform="translate(19,702.7) scale(0.975,0.94)"><path d="M14 22H7V11H0V4h14v18zM28 22h-8l7.5-18h8L28 22z"/><circle cx="20" cy="8" r="4"/></g></g>
<text x="64.57" y="723.4" font-size="23.5" font-weight="bold" fill="#131722" textLength="149.59" lengthAdjust="spacingAndGlyphs">TradingView</text>
</svg>
</body></html>
